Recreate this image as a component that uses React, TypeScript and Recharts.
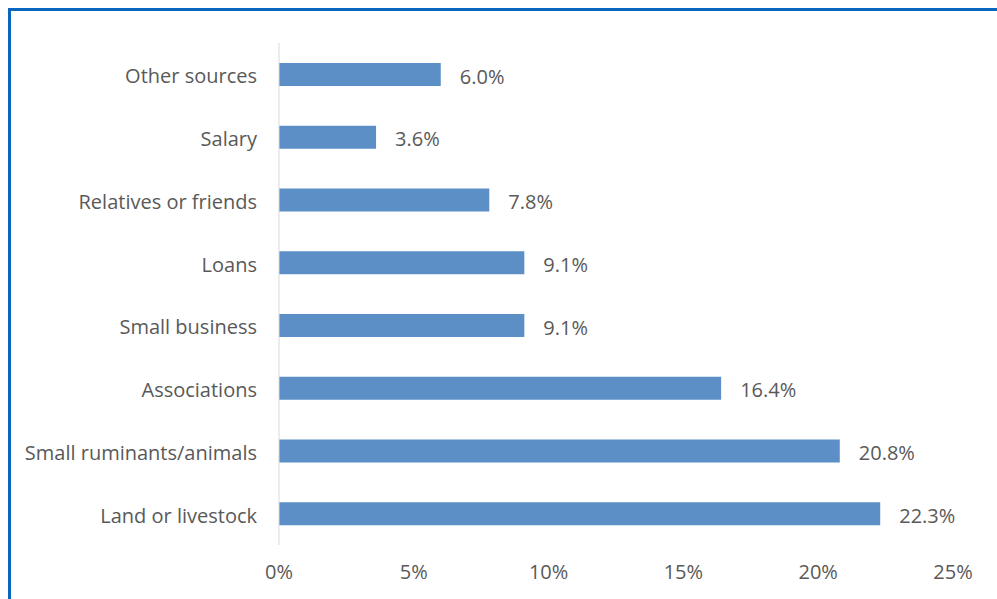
import React from "react";
import { BarChart, Bar, XAxis, YAxis, LabelList } from "recharts";

const categories = [
  "Other sources",
  "Salary",
  "Relatives or friends",
  "Loans",
  "Small business",
  "Associations",
  "Small ruminants/animals",
  "Land or livestock",
];
const values = [6.0, 3.6, 7.8, 9.1, 9.1, 16.4, 20.8, 22.3];
const xTicks = [0, 5, 10, 15, 20, 25];

const data = categories.map((name, i) => ({ name, value: values[i] }));

const FONT = "'Open Sans', Lato, sans-serif";
const TEXT = "#595959";
const FS = 20;

export default function App() {
  return (
    <div
      style={{
        position: "fixed",
        left: 0,
        top: 0,
        width: 997,
        height: 599,
        overflow: "hidden",
        background: "#fff",
        fontFamily: FONT,
      }}
    >
      <div
        style={{
          position: "absolute",
          left: 8,
          top: 8,
          width: 1200,
          height: 800,
          border: "3px solid #0B66BF",
          boxSizing: "border-box",
        }}
      />
      <div style={{ position: "absolute", left: 0, top: 0 }}>
        <BarChart
          width={997}
          height={599}
          data={data}
          layout="vertical"
          margin={{ top: 43, right: 44, bottom: 14, left: 0 }}
        >
          <XAxis
            type="number"
            domain={[0, 25]}
            ticks={xTicks}
            tickFormatter={(v: number) => `${v}%`}
            axisLine={false}
            tickLine={false}
            tickMargin={14}
            height={40}
            tick={{ fill: TEXT, fontSize: FS, fontFamily: FONT }}
          />
          <YAxis
            type="category"
            dataKey="name"
            width={279}
            axisLine={{ stroke: "#D9D9D9" }}
            tickLine={false}
            tickMargin={16}
            tick={{ fill: TEXT, fontSize: FS, fontFamily: FONT, dy: 2 }}
          />
          <Bar dataKey="value" fill="#5B8FC6" barSize={23} isAnimationActive={false}>
            <LabelList
              dataKey="value"
              position="right"
              offset={19}
              formatter={(v: number) => `${v.toFixed(1)}%`}
              style={{ fill: TEXT, fontSize: FS, fontFamily: FONT }}
              dy={2}
            />
          </Bar>
        </BarChart>
      </div>
    </div>
  );
}
